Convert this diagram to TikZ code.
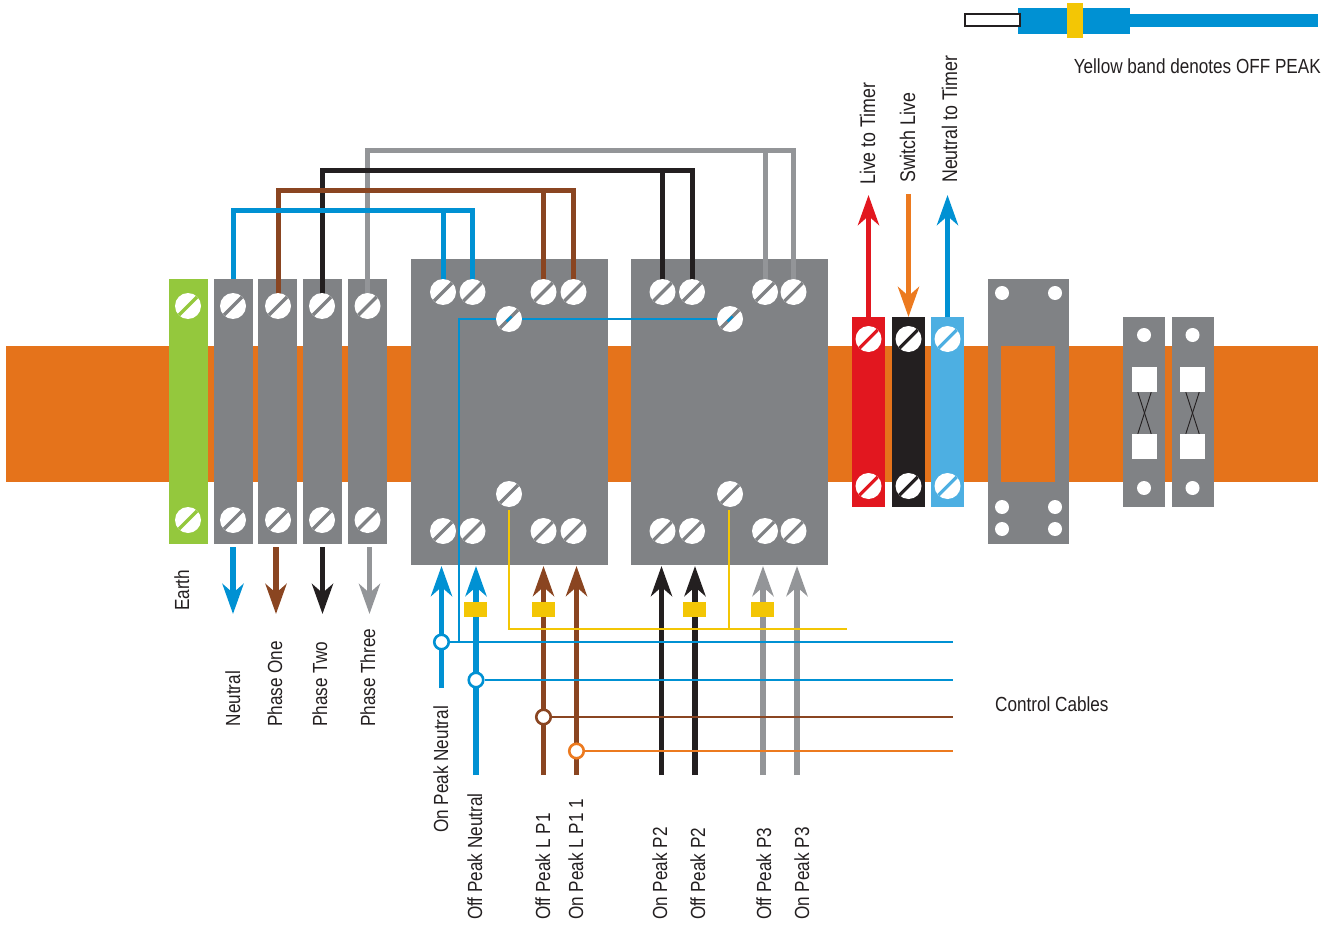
\documentclass[tikz,border=0pt]{standalone}
\usepackage{fontspec}
\setmainfont[FakeStretch=0.84]{Liberation Sans}
\usetikzlibrary{arrows.meta,backgrounds}
\definecolor{band}{HTML}{E5731B}
\definecolor{grayb}{HTML}{808285}
\definecolor{greenb}{HTML}{94C83D}
\definecolor{bluew}{HTML}{0091D3}
\definecolor{brownw}{HTML}{8A4521}
\definecolor{blackw}{HTML}{231F20}
\definecolor{grayw}{HTML}{939598}
\definecolor{redb}{HTML}{E2171F}
\definecolor{lightb}{HTML}{4DAFE2}
\definecolor{yel}{HTML}{F3C605}
\definecolor{orw}{HTML}{EC7A1F}
\tikzset{
  x=1pt,y=-1pt,
  box/.style={draw=none,inner sep=0,minimum width=#1,anchor=north west,fill=grayb},
  screw/.style={circle,fill=white,minimum size=26,inner sep=0,path picture={
    \draw[line width=3.2,#1] ([xshift=-2,yshift=-2]path picture bounding box.south west)--([xshift=2,yshift=2]path picture bounding box.north east);}},
  hole/.style={circle,fill=white,minimum size=14,inner sep=0},
  sq/.style={fill=white,minimum size=25,inner sep=0},
  joint/.style={circle,fill=white,draw=#1,line width=2.6,minimum size=14.5,inner sep=0},
  ybandn/.style={fill=yel,minimum width=23,minimum height=15,inner sep=0},
  wire/.style={line width=5,draw=#1},
  ctrl/.style={line width=2.7,draw=#1},
  arrowup/.style={line width=5.4,draw=#1,-{Stealth[length=30,width=21,inset=9,#1]}},
  lab/.style={font=\fontsize{20.4}{24}\selectfont,text=blackw,inner sep=0,text height=14,text depth=4},
  vlab/.style={lab,rotate=90},
  tlab/.style={vlab,font=\fontsize{21.2}{24}\selectfont}
}
\begin{document}
\begin{tikzpicture}
\useasboundingbox (0,0) rectangle (1332,925);
\begin{pgfonlayer}{background}
\fill[band] (6,346) rectangle (1318,482);
\node[box=39,minimum height=265,fill=greenb] (earth) at (169,279) {};
\node[box=39,minimum height=265] (sn) at (214,279) {};
\node[box=39,minimum height=265] (s1) at (258,279) {};
\node[box=39,minimum height=265] (s2) at (303,279) {};
\node[box=39,minimum height=265] (s3) at (348,279) {};
\node[box=197,minimum height=306] (b1) at (411,259) {};
\node[box=197,minimum height=306] (b2) at (631,259) {};
\node[box=33,minimum height=190,fill=redb] (tr) at (852,317) {};
\node[box=33,minimum height=190,fill=blackw] (tk) at (892,317) {};
\node[box=33,minimum height=190,fill=lightb] (tb) at (931,317) {};
\node[box=81,minimum height=265] (fr) at (988,279) {};
\node[box=54,minimum height=136,fill=band] (win) at (1001,346) {};
\node[box=42,minimum height=190] (t1) at (1123,317) {};
\node[box=42,minimum height=190] (t2) at (1172,317) {};
\end{pgfonlayer}
% screws
\foreach \n/\x/\c in {e/188/greenb,n/233/grayb,o/278/grayb,w/322/grayb,h/367.5/grayb}{
  \node[screw=\c] (\n T) at (\x,306) {};
  \node[screw=\c] (\n B) at (\x,520) {};
}
\foreach \n/\x in {A/443,B/472.5,C/543.5,D/573.5,E/662.5,F/692,G/765,H/793.5}{
  \node[screw=grayb] (\n T) at (\x,292) {};
  \node[screw=grayb] (\n B) at (\x,531) {};
}
\node[screw=grayb] (m1) at (509,319) {};
\node[screw=grayb] (m2) at (730,319) {};
\node[screw=grayb] (m3) at (509,494) {};
\node[screw=grayb] (m4) at (730,494) {};
\foreach \n/\x/\c in {r/868.5/redb,k/908.5/blackw,l/947.5/lightb}{
  \node[screw=\c] (\n T) at (\x,339) {};
  \node[screw=\c] (\n B) at (\x,486) {};
}
% upper wires (behind the screws)
\begin{pgfonlayer}{background}
\draw[wire=grayw] (hT.center) |- (HT.center |- 0,151) -- (HT.center);
\draw[wire=grayw] (GT.center |- 0,151) -- (GT.center);
\draw[wire=blackw] (wT.center) |- (FT.center |- 0,171) -- (FT.center);
\draw[wire=blackw] (ET.center |- 0,171) -- (ET.center);
\draw[wire=brownw] (oT.center) |- (DT.center |- 0,191) -- (DT.center);
\draw[wire=brownw] (CT.center |- 0,191) -- (CT.center);
\draw[wire=bluew] (sn.north) |- (BT.center |- 0,211) -- (BT.center);
\draw[wire=bluew] (AT.center |- 0,211) -- (AT.center);
\end{pgfonlayer}
% frame and terminal holes
\foreach \x in {1002,1055}\foreach \y in {293,507,529}{\node[hole] (f\x\y) at (\x,\y) {};}
\foreach \x in {1144,1192.5}\foreach \y in {335,488}{\node[hole] (t\x\y) at (\x,\y) {};}
\node[sq] (q1) at (1144.5,379.5) {};
\node[sq] (q2) at (1144.5,446.5) {};
\node[sq] (q3) at (1192.5,379.5) {};
\node[sq] (q4) at (1192.5,446.5) {};
\draw[blackw,line width=.9] ([xshift=6]q1.south west) -- ([xshift=-6]q2.north east);
\draw[blackw,line width=.9] ([xshift=-6]q1.south east) -- ([xshift=6]q2.north west);
\draw[blackw,line width=.9] ([xshift=6]q3.south west) -- ([xshift=-6]q4.north east);
\draw[blackw,line width=.9] ([xshift=-6]q3.south east) -- ([xshift=6]q4.north west);
% free ends
\foreach \n/\x/\y in {u1/233/614,u2/276/614,u3/322.5/614,u4/369.5/614,
  d1/441.5/688,d2/476/775,d3/543.5/775,d4/576.5/775,d5/661.5/775,d6/695/775,d7/763/775,d8/797/775,
  e1/441.5/566,e2/476/566,e3/543.5/566,e4/576.5/566,e5/661.5/566,e6/695/566,e7/763/566,e8/797/566,
  g1/233/547,g2/276/547,g3/322.5/547,g4/369.5/547,
  r1/868.5/317,r2/868.5/195,o1/908.5/194,o2/908.5/317,l1/947.5/317,l2/947.5/195,
  z1/953/642,z2/953/680,z3/953/717,z4/953/751,z5/847/629,z6/459/642,z7/459/319,
  y0/509/510,y1/509/629,y3/729/510,y2/729/629}{\coordinate (\n) at (\x,\y);}
\draw[arrowup=bluew] (g1) -- (u1);
\draw[arrowup=brownw] (g2) -- (u2);
\draw[arrowup=blackw] (g3) -- (u3);
\draw[arrowup=grayw] (g4) -- (u4);
% control lines
\draw[ctrl=bluew] (z6) -- (z7) -- (m1);
\draw[ctrl=bluew] (m1) -- (m2);
\draw[ctrl=bluew,line width=2.2] ([xshift=-2.5,yshift=-2.5]m1.center) -- ([xshift=2.5,yshift=2.5]m1.center);
\draw[ctrl=bluew,line width=2.2] ([xshift=-2.5,yshift=-2.5]m2.center) -- ([xshift=2.5,yshift=2.5]m2.center);
\draw[arrowup=bluew] (d1) -- (e1);
\draw[arrowup=bluew] (d2) -- (e2);
\draw[arrowup=brownw] (d3) -- (e3);
\draw[arrowup=brownw] (d4) -- (e4);
\draw[arrowup=blackw] (d5) -- (e5);
\draw[arrowup=blackw] (d6) -- (e6);
\draw[arrowup=grayw] (d7) -- (e7);
\draw[arrowup=grayw] (d8) -- (e8);
\draw[ctrl=yel] (y0) -- (y1) -- (z5);
\draw[ctrl=yel] (y3) -- (y2);
\draw[arrowup=redb] (r1) -- (r2);
\draw[arrowup=orw] (o1) -- (o2);
\draw[arrowup=bluew] (l1) -- (l2);
\node[joint=bluew] (j1) at (441.5,642) {};
\node[joint=bluew] (j2) at (476,680) {};
\node[joint=brownw] (j3) at (543.5,717) {};
\node[joint=orw] (j4) at (576.5,751) {};
\draw[ctrl=bluew] (j1) -- (z1);
\draw[ctrl=bluew] (j2) -- (z2);
\draw[ctrl=brownw] (j3) -- (z3);
\draw[ctrl=orw] (j4) -- (z4);
\foreach \n/\x in {p1/475.5,p2/543.5,p3/694.5,p4/762.5}{\node[ybandn] (\n) at (\x,609.5) {};}
% legend cable
\node[box=112,minimum height=26,fill=bluew] (cb) at (1018,8) {};
\node[box=188,minimum height=13,fill=bluew] (cl) at (1130,14) {};
\node[box=16,minimum height=35,fill=yel] (cy) at (1067,3) {};
\node[box=55,minimum height=12,fill=white,draw=blackw,line width=2] (cw) at (964,13.5) {};
% labels
\node[lab,anchor=east] (L0) at (1321,69) {Yellow band denotes OFF PEAK};
\node[lab,anchor=west] (L1) at (995,706) {Control Cables};
\foreach \t/\x/\y in {Earth/184/611,Neutral/235/726.5,Phase One/277/727,Phase Two/322/727,Phase Three/370/727,
  On Peak Neutral/443/833,Off Peak Neutral/477/920,Off Peak L P1/545/920,On Peak L P1 1/578/920,
  On Peak P2/662/920,Off Peak P2/700/920,Off Peak P3/766/920,On Peak P3/804/920}{
  \node[vlab,anchor=west] at (\x,\y) {\t};
}
\foreach \t/\x/\y in {Live to Timer/870/185,Switch Live/910/183,Neutral to Timer/952/183}{
  \node[tlab,anchor=west] at (\x,\y) {\t};
}
\end{tikzpicture}
\end{document}
